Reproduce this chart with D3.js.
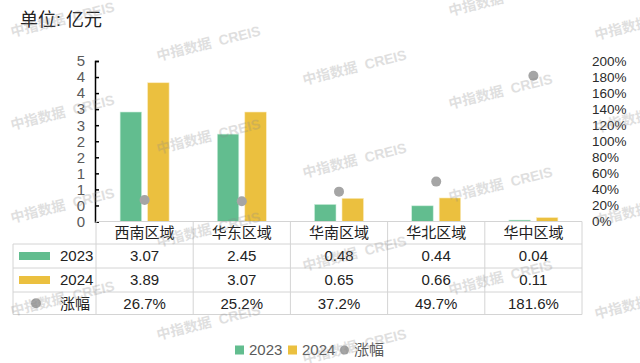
<!DOCTYPE html>
<html>
<head>
<meta charset="utf-8">
<script src="https://cdn.jsdelivr.net/npm/d3@7"></script>
<style>
  body { margin: 0; background: #fff; }
  text { font-family: 'Liberation Sans', 'Noto Sans CJK SC', sans-serif; }
</style>
</head>
<body>
<div id="chart"></div>
<script>
const regions = ['西南区域', '华东区域', '华南区域', '华北区域', '华中区域']
const values2023 = [3.07, 2.45, 0.48, 0.44, 0.04]
const values2024 = [3.89, 3.07, 0.65, 0.66, 0.11]
const growth = [26.7, 25.2, 37.2, 49.7, 181.6]
const seriesNames = ['2023', '2024', '涨幅']

const leftMax = 4.5
const rightMax = 200
const tickCount = 10

const width = 640
const height = 363

const green = '#62bd8f'
const yellow = '#ebc03f'
const grey = '#a5a5a5'
const gridColor = '#d4d4d4'

const svg = d3
  .select('#chart')
  .append('svg')
  .attr('width', width)
  .attr('height', height)

const plot = { left: 96, right: 582, top: 61, bottom: 221.5 }

const x = d3.scaleBand().domain(regions).range([plot.left, plot.right])
const yLeft = d3.scaleLinear().domain([0, leftMax]).range([plot.bottom, plot.top])
const yRight = d3.scaleLinear().domain([0, rightMax]).range([plot.bottom, plot.top])

const barWidth = 21.5
const barGap = 6

// title
svg.append('text')
  .text('单位: 亿元')
  .attr('x', 20)
  .attr('y', 26)
  .attr('font-size', 18)
  .attr('font-family', "'Noto Sans CJK SC', sans-serif")
  .attr('fill', '#222')

// left axis: excel style, 10 steps with rounded labels
const leftTicks = d3.range(tickCount + 1).map(i => leftMax * i / tickCount)
const leftAxis = d3.axisLeft(yLeft)
  .tickValues(leftTicks)
  .tickSize(-4)
  .tickPadding(10)
  .tickFormat(d => d3.format('.0f')(d + 1e-9))

const gLeft = svg.append('g')
  .attr('transform', `translate(${plot.left - 1},0)`)
  .call(leftAxis)
gLeft.select('.domain').attr('stroke', '#000').attr('stroke-width', 1.5)
gLeft.selectAll('.tick line').attr('stroke', '#000').attr('stroke-width', 1.5)
gLeft.selectAll('.tick text')
  .attr('font-size', 15)
  .attr('fill', '#5a5a5a')
  .attr('font-family', "'Liberation Sans', sans-serif")

// right axis: labels only
const rightTicks = d3.range(tickCount + 1).map(i => rightMax * i / tickCount)
const rightAxis = d3.axisRight(yRight)
  .tickValues(rightTicks)
  .tickSize(0)
  .tickPadding(0)
  .tickFormat(d => d + '%')

const gRight = svg.append('g')
  .attr('transform', 'translate(592,0)')
  .call(rightAxis)
gRight.select('.domain').remove()
gRight.selectAll('.tick text')
  .attr('font-size', 13.5)
  .attr('fill', '#2b2b2b')
  .attr('font-family', "'Liberation Sans', sans-serif")

// bars
const center = d => x(d) + x.bandwidth() / 2

svg.append('g')
  .selectAll('rect')
  .data(regions)
  .enter()
  .append('rect')
  .attr('x', d => center(d) - barGap / 2 - barWidth)
  .attr('y', (d, i) => yLeft(values2023[i]))
  .attr('width', barWidth)
  .attr('height', (d, i) => plot.bottom - yLeft(values2023[i]))
  .attr('fill', green)
  .attr('stroke', '#cdeedd')
  .attr('stroke-width', 0.6)

svg.append('g')
  .selectAll('rect')
  .data(regions)
  .enter()
  .append('rect')
  .attr('x', d => center(d) + barGap / 2)
  .attr('y', (d, i) => yLeft(values2024[i]))
  .attr('width', barWidth)
  .attr('height', (d, i) => plot.bottom - yLeft(values2024[i]))
  .attr('fill', yellow)
  .attr('stroke', '#fbecc0')
  .attr('stroke-width', 0.6)

// growth dots
svg.append('g')
  .selectAll('circle')
  .data(regions)
  .enter()
  .append('circle')
  .attr('cx', d => center(d))
  .attr('cy', (d, i) => yRight(growth[i]))
  .attr('r', 5)
  .attr('fill', grey)

// data table under the plot
const rowTops = [plot.bottom, 244, 268, 292, 314.5]
const tableLeft = 13
const table = svg.append('g')
  .attr('stroke', gridColor)
  .attr('stroke-width', 1)
  .attr('fill', 'none')

rowTops.forEach((ry, i) => {
  table.append('line')
    .attr('x1', i === 0 ? plot.left : tableLeft)
    .attr('x2', plot.right)
    .attr('y1', ry)
    .attr('y2', ry)
})
regions.concat(['end']).forEach((d, i) => {
  const vx = plot.left + i * x.bandwidth()
  table.append('line')
    .attr('x1', vx).attr('x2', vx)
    .attr('y1', rowTops[0]).attr('y2', rowTops[4])
})
table.append('line')
  .attr('x1', tableLeft).attr('x2', tableLeft)
  .attr('y1', rowTops[1]).attr('y2', rowTops[4])

const rowMid = i => (rowTops[i] + rowTops[i + 1]) / 2

svg.append('g')
  .selectAll('text')
  .data(regions)
  .enter()
  .append('text')
  .text(d => d)
  .attr('x', d => center(d))
  .attr('y', rowMid(0))
  .attr('dy', '0.36em')
  .attr('text-anchor', 'middle')
  .attr('font-size', 15)
  .attr('fill', '#222')

const rows = [
  values2023.map(v => d3.format('.2f')(v)),
  values2024.map(v => d3.format('.2f')(v)),
  growth.map(v => d3.format('.1f')(v) + '%')
]

rows.forEach((row, r) => {
  svg.append('g')
    .selectAll('text')
    .data(row)
    .enter()
    .append('text')
    .text(d => d)
    .attr('x', (d, i) => center(regions[i]))
    .attr('y', rowMid(r + 1))
    .attr('dy', '0.36em')
    .attr('text-anchor', 'middle')
    .attr('font-size', 15)
    .attr('fill', '#222')

  svg.append('text')
    .text(seriesNames[r])
    .attr('x', 60)
    .attr('y', rowMid(r + 1))
    .attr('dy', '0.36em')
    .attr('font-size', 15)
    .attr('fill', '#222')
})

// table legend keys
svg.append('rect').attr('x', 19).attr('y', rowMid(1) - 4).attr('width', 31).attr('height', 8).attr('fill', green)
svg.append('rect').attr('x', 19).attr('y', rowMid(2) - 4).attr('width', 31).attr('height', 8).attr('fill', yellow)
svg.append('circle').attr('cx', 36).attr('cy', rowMid(3)).attr('r', 5).attr('fill', grey)

// bottom legend
const legend = svg.append('g').attr('transform', 'translate(0,350)')
const legendItems = [
  { name: seriesNames[0], color: green, x: 235, shape: 'rect' },
  { name: seriesNames[1], color: yellow, x: 288, shape: 'rect' },
  { name: seriesNames[2], color: grey, x: 340, shape: 'circle' }
]
legendItems.forEach(item => {
  if (item.shape === 'rect') {
    legend.append('rect')
      .attr('x', item.x).attr('y', -4.5)
      .attr('width', 9).attr('height', 9)
      .attr('fill', item.color)
  } else {
    legend.append('circle')
      .attr('cx', item.x + 4.5).attr('cy', 0)
      .attr('r', 4.5)
      .attr('fill', item.color)
  }
  legend.append('text')
    .text(item.name)
    .attr('x', item.x + 14)
    .attr('y', 0)
    .attr('dy', '0.36em')
    .attr('font-size', 15)
    .attr('fill', '#5a5a5a')
})

// watermark lattice
const marks = []
for (let i = 0; i < 5; i++) {
  for (let k = 0; k < 4; k++) {
    const my = ((37 + 24 * i) % 93) + 93 * k
    if (my > 12 && my < 375) marks.push([12 + 146 * i, my])
  }
}
svg.append('g')
  .selectAll('text')
  .data(marks)
  .enter()
  .append('text')
  .text('中指数据  CREIS')
  .attr('xml:space', 'preserve')
  .style('white-space', 'pre')
  .attr('transform', d => `translate(${d[0]},${d[1]}) rotate(-14)`)
  .attr('font-size', 14)
  .attr('font-weight', 'bold')
  .attr('font-family', "'Noto Sans CJK SC', sans-serif")
  .attr('fill', '#888')
  .attr('opacity', 0.26)
</script>
</body>
</html>
